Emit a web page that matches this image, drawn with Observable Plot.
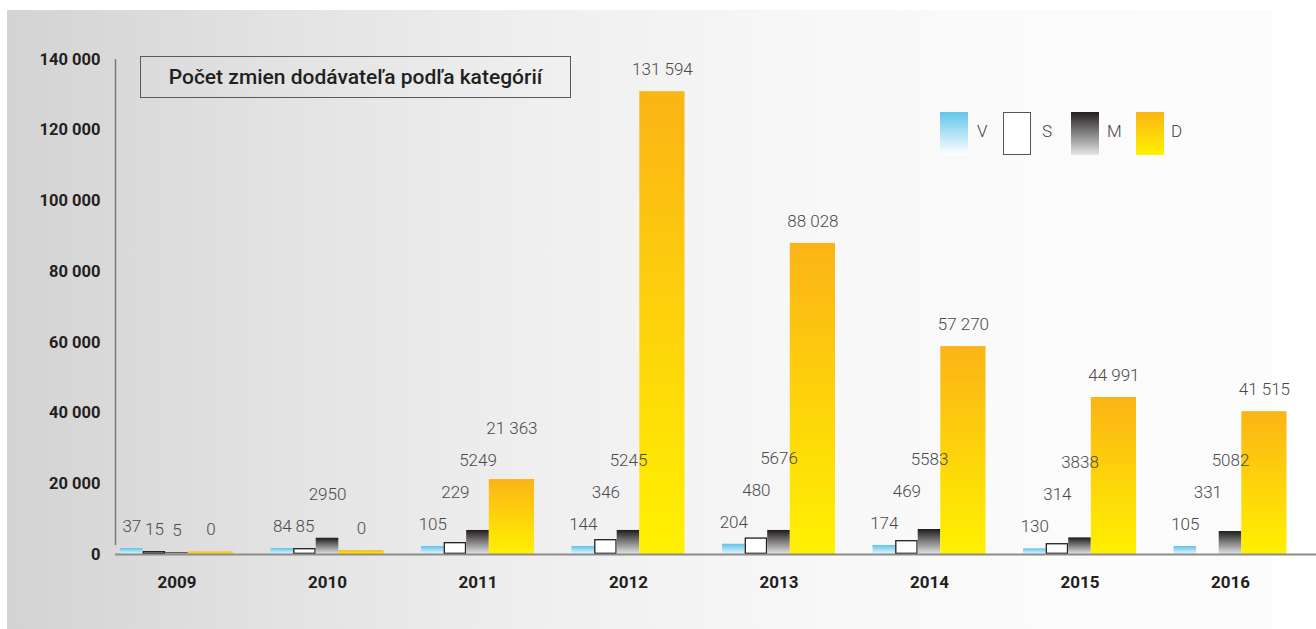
<!DOCTYPE html>
<html>
<head>
<meta charset="utf-8">
<script src="https://cdn.jsdelivr.net/npm/d3@7"></script>
<script src="https://cdn.jsdelivr.net/npm/@observablehq/plot@0.6"></script>
<style>
  html, body { margin: 0; padding: 0; background: #ffffff; }
  #wrap { position: relative; width: 1316px; height: 629px; overflow: hidden; font-family: Roboto, "DejaVu Sans", sans-serif; }
  #panel { position: absolute; left: 7px; top: 10px; width: 1265px; height: 619px;
    background: linear-gradient(to right, #d3d3d3 0%, #e3e3e3 22%, #efefef 42%, #f7f7f7 62%, #fbfbfb 82%, #fcfcfc 100%); }
  #chart { position: absolute; left: 0; top: 0; }
  #title { position: absolute; left: 140px; top: 56px; width: 429px; height: 40px; border: 1.5px solid #5a5a5a;
    display: flex; align-items: center; justify-content: center; font-size: 21px; font-weight: 500; color: #231f20; }
  .sw { position: absolute; top: 112px; width: 28px; height: 43px; box-sizing: border-box; }
  .lab { position: absolute; top: 121px; font-size: 17px; font-weight: 300; color: #444; }
</style>
</head>
<body>
<div id="wrap">
  <div id="panel"></div>
  <div id="chart"></div>
  <div id="title">Počet zmien dodávateľa podľa kategórií</div>
  <div class="sw" style="left:940px;background:linear-gradient(to bottom,#62c6ea,#ffffff);"></div>
  <div class="lab" style="left:977px;">V</div>
  <div class="sw" style="left:1003px;background:#fff;border:1.5px solid #555;"></div>
  <div class="lab" style="left:1042px;">S</div>
  <div class="sw" style="left:1071px;background:linear-gradient(to bottom,#231f20,#e6e6e6);"></div>
  <div class="lab" style="left:1107px;">M</div>
  <div class="sw" style="left:1136px;background:linear-gradient(to bottom,#fbb415,#fff200);"></div>
  <div class="lab" style="left:1171px;">D</div>
</div>
<script>
// ---- data ----
const years = ["2009", "2010", "2011", "2012", "2013", "2014", "2015", "2016"];
const series = ["V", "S", "M", "D"];
// printed value labels
const labelV = [37, 84, 105, 144, 204, 174, 130, 105];
const labelS = [15, 85, 229, 346, 480, 469, 314, 331];
const labelM = [5, 2950, 5249, 5245, 5676, 5583, 3838, 5082];
const labelD = [0, 0, 21363, 131594, 88028, 57270, 44991, 41515];
// drawn bar heights (in axis units)
const barV = [1700, 1700, 2260, 2260, 2900, 2550, 1600, 2260];
const barS = [850, 1700, 3400, 4240, 4700, 3960, 3100, 0];
const barM = [500, 4600, 6800, 6800, 6800, 7070, 4700, 6500];
const barD = [700, 1100, 21200, 130900, 88000, 58800, 44400, 40400];
const yTicks = [0, 20000, 40000, 60000, 80000, 100000, 120000, 140000];

// ---- layout ----
const W = 1316, H = 629, mL = 115, mR = 0, mT = 59, mB = 75;
const step = 150.5;                         // px per year group
const xDomain = [-5 / step, (W - mL - mR - 5) / step];
const yDomain = [0, 140000];
const bw = 22.6 / step;                     // bar width as share of a year step
const slots = {V: [0, 1], S: [1, 2], M: [2, 3], D: [3, 5]};
const bars = {V: barV, S: barS, M: barM, D: barD};
const labels = {V: labelV, S: labelS, M: labelM, D: labelD};
const fmt = n => n >= 10000 ? d3.format(",")(n).replace(/,/g, " ") : String(n);

const xs = d3.scaleLinear(xDomain, [mL, W - mR]);
const ys = d3.scaleLinear(yDomain, [H - mB, mT]);

const rows = [];
years.forEach((yr, i) => {
  series.forEach(s => {
    rows.push({
      year: yr, i, s,
      x1: i + slots[s][0] * bw,
      x2: i + slots[s][1] * bw,
      xm: i + (slots[s][0] + slots[s][1]) / 2 * bw,
      h: bars[s][i],
      label: fmt(labels[s][i])
    });
  });
});
const of = s => rows.filter(d => d.s === s);

// label placement: just above the bar, lifted when it would collide with
// a label already placed in the same group
const textW = t => [...t].reduce((a, c) => a + (c === " " ? 4.2 : 9.4), 0);
years.forEach((yr, i) => {
  const placed = [];
  rows.filter(d => d.i === i).forEach(d => {
    const cx = xs(d.xm), w = textW(d.label);
    const l = cx - w / 2, r = cx + w / 2;
    let py = ys(d.h) - 22;
    let moved = true;
    while (moved) {
      moved = false;
      for (const p of placed) {
        if (l < p.r + 2 && r > p.l - 2 && Math.abs(py - p.y) < 28) {
          py = p.y - 32; moved = true;
        }
      }
    }
    placed.push({l, r, y: py});
    d.ly = ys.invert(py);
  });
});

const defs = () => {
  const ns = "http://www.w3.org/2000/svg";
  const d = document.createElementNS(ns, "defs");
  const grad = (id, c1, c2) => {
    const g = document.createElementNS(ns, "linearGradient");
    g.setAttribute("id", id);
    g.setAttribute("x1", "0"); g.setAttribute("y1", "0");
    g.setAttribute("x2", "0"); g.setAttribute("y2", "1");
    [[0, c1], [1, c2]].forEach(([o, c]) => {
      const st = document.createElementNS(ns, "stop");
      st.setAttribute("offset", o);
      st.setAttribute("stop-color", c);
      g.appendChild(st);
    });
    d.appendChild(g);
  };
  grad("gV", "#5ec4ea", "#e9f6fb");
  grad("gM", "#1f1b1c", "#e4e4e4");
  grad("gD", "#fbb416", "#fff100");
  return d;
};

const labelText = "#4a4a4a";
const chart = Plot.plot({
  width: W,
  height: H,
  marginLeft: mL,
  marginRight: mR,
  marginTop: mT,
  marginBottom: mB,
  style: {background: "transparent", fontFamily: "Roboto, 'DejaVu Sans', sans-serif"},
  x: {type: "linear", domain: xDomain, axis: null},
  y: {domain: yDomain, axis: null},
  marks: [
    defs,
    Plot.axisY({ticks: yTicks, tickSize: 0, tickPadding: 15, label: null,
      tickFormat: d => d3.format(",")(d).replace(/,/g, " "),
      fontSize: 16.5, fontWeight: "bold", fill: "#231f20"}),
    Plot.rectY(of("V"), {x1: "x1", x2: "x2", y1: 0, y2: "h", fill: "url(#gV)"}),
    Plot.rectY(of("S").filter(d => d.h > 0), {x1: "x1", x2: "x2", y1: 0, y2: "h", fill: "#ffffff", stroke: "#231f20", strokeWidth: 1.3, inset: 0.7}),
    Plot.rectY(of("M"), {x1: "x1", x2: "x2", y1: 0, y2: "h", fill: "url(#gM)"}),
    Plot.rectY(of("D"), {x1: "x1", x2: "x2", y1: 0, y2: "h", fill: "url(#gD)"}),
    Plot.ruleY([0], {stroke: "#8c8c8c", strokeWidth: 2}),
    Plot.ruleX([xDomain[0]], {y1: 0, y2: 140000, insetTop: -9, stroke: "#7a7a7a", strokeWidth: 1.5}),
    Plot.text(rows, {x: "xm", y: "ly", text: "label", fontSize: 17, fontWeight: 300, fill: labelText}),
    Plot.text(years, {x: (d, i) => i + 2.5 * bw, y: 0, dy: 28, text: d => d, fontSize: 17, fontWeight: "bold", fill: "#231f20"})
  ]
});
document.getElementById("chart").appendChild(chart);
</script>
</body>
</html>
